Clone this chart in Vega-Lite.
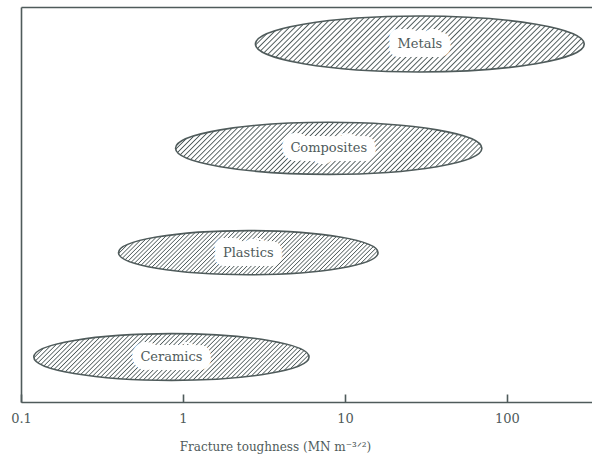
{
  "$schema": "https://vega.github.io/schema/vega-lite/v6.json",
  "autosize": "none",
  "width": 571,
  "height": 395,
  "padding": {"left": 21, "top": 7, "right": 0, "bottom": 59},
  "background": "white",
  "config": {"view": {"stroke": null}, "axis": {"grid": false}},
  "data": {"values": [
    {"material": "Metals", "lo": 2.8, "hi": 300},
    {"material": "Composites", "lo": 0.9, "hi": 70},
    {"material": "Plastics", "lo": 0.4, "hi": 16},
    {"material": "Ceramics", "lo": 0.12, "hi": 6}
  ]},
  "transform": [
    {"calculate": "sqrt(datum.lo * datum.hi)", "as": "center"},
    {"calculate": "log(datum.hi / datum.lo) / LN10", "as": "span"}
  ],
  "resolve": {"axis": {"x": "independent"}},
  "layer": [
    {
      "mark": {
        "type": "point",
        "shape": "M -1 0 A 1 0.17 0 1 1 1 0 A 1 0.17 0 1 1 -1 0 Z",
        "filled": true,
        "opacity": 1,
        "fillOpacity": 1,
        "strokeOpacity": 1,
        "stroke": "#4f5b5b",
        "strokeWidth": 1.6,
        "fill": {
          "gradient": "linear",
          "x1": 0.07, "y1": 0.012, "x2": 1.07, "y2": 0.182,
          "stops": [
{"offset":0,"color":"#4f5b5b"},{"offset":0.004,"color":"#fff"},{"offset":0.012,"color":"#fff"},
{"offset":0.016,"color":"#4f5b5b"},{"offset":0.02,"color":"#fff"},{"offset":0.028,"color":"#fff"},
{"offset":0.032,"color":"#4f5b5b"},{"offset":0.036,"color":"#fff"},{"offset":0.044,"color":"#fff"},
{"offset":0.048,"color":"#4f5b5b"},{"offset":0.052,"color":"#fff"},{"offset":0.06,"color":"#fff"},
{"offset":0.064,"color":"#4f5b5b"},{"offset":0.068,"color":"#fff"},{"offset":0.076,"color":"#fff"},
{"offset":0.08,"color":"#4f5b5b"},{"offset":0.084,"color":"#fff"},{"offset":0.092,"color":"#fff"},
{"offset":0.096,"color":"#4f5b5b"},{"offset":0.1,"color":"#fff"},{"offset":0.108,"color":"#fff"},
{"offset":0.112,"color":"#4f5b5b"},{"offset":0.116,"color":"#fff"},{"offset":0.124,"color":"#fff"},
{"offset":0.128,"color":"#4f5b5b"},{"offset":0.132,"color":"#fff"},{"offset":0.14,"color":"#fff"},
{"offset":0.144,"color":"#4f5b5b"},{"offset":0.148,"color":"#fff"},{"offset":0.156,"color":"#fff"},
{"offset":0.16,"color":"#4f5b5b"},{"offset":0.164,"color":"#fff"},{"offset":0.172,"color":"#fff"},
{"offset":0.176,"color":"#4f5b5b"},{"offset":0.18,"color":"#fff"},{"offset":0.188,"color":"#fff"},
{"offset":0.192,"color":"#4f5b5b"},{"offset":0.196,"color":"#fff"},{"offset":0.204,"color":"#fff"},
{"offset":0.208,"color":"#4f5b5b"},{"offset":0.212,"color":"#fff"},{"offset":0.22,"color":"#fff"},
{"offset":0.224,"color":"#4f5b5b"},{"offset":0.228,"color":"#fff"},{"offset":0.236,"color":"#fff"},
{"offset":0.24,"color":"#4f5b5b"},{"offset":0.244,"color":"#fff"},{"offset":0.252,"color":"#fff"},
{"offset":0.256,"color":"#4f5b5b"},{"offset":0.26,"color":"#fff"},{"offset":0.268,"color":"#fff"},
{"offset":0.272,"color":"#4f5b5b"},{"offset":0.276,"color":"#fff"},{"offset":0.284,"color":"#fff"},
{"offset":0.288,"color":"#4f5b5b"},{"offset":0.292,"color":"#fff"},{"offset":0.3,"color":"#fff"},
{"offset":0.304,"color":"#4f5b5b"},{"offset":0.308,"color":"#fff"},{"offset":0.316,"color":"#fff"},
{"offset":0.32,"color":"#4f5b5b"},{"offset":0.324,"color":"#fff"},{"offset":0.332,"color":"#fff"},
{"offset":0.336,"color":"#4f5b5b"},{"offset":0.34,"color":"#fff"},{"offset":0.348,"color":"#fff"},
{"offset":0.352,"color":"#4f5b5b"},{"offset":0.356,"color":"#fff"},{"offset":0.364,"color":"#fff"},
{"offset":0.368,"color":"#4f5b5b"},{"offset":0.372,"color":"#fff"},{"offset":0.38,"color":"#fff"},
{"offset":0.384,"color":"#4f5b5b"},{"offset":0.388,"color":"#fff"},{"offset":0.396,"color":"#fff"},
{"offset":0.4,"color":"#4f5b5b"},{"offset":0.404,"color":"#fff"},{"offset":0.412,"color":"#fff"},
{"offset":0.416,"color":"#4f5b5b"},{"offset":0.42,"color":"#fff"},{"offset":0.428,"color":"#fff"},
{"offset":0.432,"color":"#4f5b5b"},{"offset":0.436,"color":"#fff"},{"offset":0.444,"color":"#fff"},
{"offset":0.448,"color":"#4f5b5b"},{"offset":0.452,"color":"#fff"},{"offset":0.46,"color":"#fff"},
{"offset":0.464,"color":"#4f5b5b"},{"offset":0.468,"color":"#fff"},{"offset":0.476,"color":"#fff"},
{"offset":0.48,"color":"#4f5b5b"},{"offset":0.484,"color":"#fff"},{"offset":0.492,"color":"#fff"},
{"offset":0.496,"color":"#4f5b5b"},{"offset":0.5,"color":"#fff"},{"offset":0.508,"color":"#fff"},
{"offset":0.512,"color":"#4f5b5b"},{"offset":0.516,"color":"#fff"},{"offset":0.524,"color":"#fff"},
{"offset":0.528,"color":"#4f5b5b"},{"offset":0.532,"color":"#fff"},{"offset":0.54,"color":"#fff"},
{"offset":0.544,"color":"#4f5b5b"},{"offset":0.548,"color":"#fff"},{"offset":0.556,"color":"#fff"},
{"offset":0.56,"color":"#4f5b5b"},{"offset":0.564,"color":"#fff"},{"offset":0.572,"color":"#fff"},
{"offset":0.576,"color":"#4f5b5b"},{"offset":0.58,"color":"#fff"},{"offset":0.588,"color":"#fff"},
{"offset":0.592,"color":"#4f5b5b"},{"offset":0.596,"color":"#fff"},{"offset":0.604,"color":"#fff"},
{"offset":0.608,"color":"#4f5b5b"},{"offset":0.612,"color":"#fff"},{"offset":0.62,"color":"#fff"},
{"offset":0.624,"color":"#4f5b5b"},{"offset":0.628,"color":"#fff"},{"offset":0.636,"color":"#fff"},
{"offset":0.64,"color":"#4f5b5b"},{"offset":0.644,"color":"#fff"},{"offset":0.652,"color":"#fff"},
{"offset":0.656,"color":"#4f5b5b"},{"offset":0.66,"color":"#fff"},{"offset":0.668,"color":"#fff"},
{"offset":0.672,"color":"#4f5b5b"},{"offset":0.676,"color":"#fff"},{"offset":0.684,"color":"#fff"},
{"offset":0.688,"color":"#4f5b5b"},{"offset":0.692,"color":"#fff"},{"offset":0.7,"color":"#fff"},
{"offset":0.704,"color":"#4f5b5b"},{"offset":0.708,"color":"#fff"},{"offset":0.716,"color":"#fff"},
{"offset":0.72,"color":"#4f5b5b"},{"offset":0.724,"color":"#fff"},{"offset":0.732,"color":"#fff"},
{"offset":0.736,"color":"#4f5b5b"},{"offset":0.74,"color":"#fff"},{"offset":0.748,"color":"#fff"},
{"offset":0.752,"color":"#4f5b5b"},{"offset":0.756,"color":"#fff"},{"offset":0.764,"color":"#fff"},
{"offset":0.768,"color":"#4f5b5b"},{"offset":0.772,"color":"#fff"},{"offset":0.78,"color":"#fff"},
{"offset":0.784,"color":"#4f5b5b"},{"offset":0.788,"color":"#fff"},{"offset":0.796,"color":"#fff"},
{"offset":0.8,"color":"#4f5b5b"},{"offset":0.804,"color":"#fff"},{"offset":0.812,"color":"#fff"},
{"offset":0.816,"color":"#4f5b5b"},{"offset":0.82,"color":"#fff"},{"offset":0.828,"color":"#fff"},
{"offset":0.832,"color":"#4f5b5b"},{"offset":0.836,"color":"#fff"},{"offset":0.844,"color":"#fff"},
{"offset":0.848,"color":"#4f5b5b"},{"offset":0.852,"color":"#fff"},{"offset":0.86,"color":"#fff"},
{"offset":0.864,"color":"#4f5b5b"},{"offset":0.868,"color":"#fff"},{"offset":0.876,"color":"#fff"},
{"offset":0.88,"color":"#4f5b5b"},{"offset":0.884,"color":"#fff"},{"offset":0.892,"color":"#fff"},
{"offset":0.896,"color":"#4f5b5b"},{"offset":0.9,"color":"#fff"},{"offset":0.908,"color":"#fff"},
{"offset":0.912,"color":"#4f5b5b"},{"offset":0.916,"color":"#fff"},{"offset":0.924,"color":"#fff"},
{"offset":0.928,"color":"#4f5b5b"},{"offset":0.932,"color":"#fff"},{"offset":0.94,"color":"#fff"},
{"offset":0.944,"color":"#4f5b5b"},{"offset":0.948,"color":"#fff"},{"offset":0.956,"color":"#fff"},
{"offset":0.96,"color":"#4f5b5b"},{"offset":0.964,"color":"#fff"},{"offset":0.972,"color":"#fff"},
{"offset":0.976,"color":"#4f5b5b"},{"offset":0.98,"color":"#fff"},{"offset":0.988,"color":"#fff"},
{"offset":0.992,"color":"#4f5b5b"},{"offset":0.996,"color":"#fff"},{"offset":1,"color":"#fff"}
          ]
        }
      },
      "encoding": {
        "x": {
          "field": "center", "type": "quantitative",
          "scale": {"type": "log", "domain": [0.1, 335], "nice": false},
          "axis": {
            "orient": "bottom",
            "values": [0.1, 1, 10, 100],
            "format": "~g",
            "labelFlush": false,
            "labelFont": "DejaVu Serif", "labelFontSize": 13, "labelColor": "#4f5b5b",
            "labelPadding": 18,
            "ticks": true, "tickSize": -8, "tickColor": "#4f5b5b", "tickWidth": 1.6,
            "domainColor": "#4f5b5b", "domainWidth": 1.6,
            "title": "Fracture toughness (MN m⁻³ᐟ²)",
            "titleFont": "DejaVu Serif", "titleFontSize": 12, "titleFontWeight": "normal",
            "titleColor": "#4f5b5b",
            "titleX": 254, "titleY": 48, "titleBaseline": "alphabetic"
          }
        },
        "y": {
          "field": "material", "type": "nominal",
          "scale": {"type": "point", "domain": ["Metals", "Composites", "Plastics", "Ceramics"], "padding": 0.393, "align": 0.451},
          "axis": {"labels": false, "ticks": false, "title": null, "domainColor": "#4f5b5b", "domainWidth": 1.6}
        },
        "size": {
          "field": "span", "type": "quantitative",
          "scale": {"type": "pow", "exponent": 2, "domain": [0, 3], "range": [0, 236196]},
          "legend": null
        }
      }
    },
    {
      "mark": {"type": "text", "font": "DejaVu Serif", "fontSize": 13, "baseline": "middle", "align": "center", "stroke": "white", "strokeWidth": 18, "strokeJoin": "round", "fill": "white"},
      "encoding": {
        "x": {
          "field": "center", "type": "quantitative",
          "scale": {"type": "log", "domain": [0.1, 335], "nice": false},
          "axis": {"orient": "top", "labels": false, "ticks": false, "title": null, "domainColor": "#4f5b5b", "domainWidth": 1.6}
        },
        "y": {
          "field": "material", "type": "nominal",
          "scale": {"type": "point", "domain": ["Metals", "Composites", "Plastics", "Ceramics"], "padding": 0.393, "align": 0.451},
          "axis": {"labels": false, "ticks": false, "title": null, "domainColor": "#4f5b5b", "domainWidth": 1.6}
        },
        "text": {"field": "material"}
      }
    },
    {
      "mark": {"type": "text", "font": "DejaVu Serif", "fontSize": 13, "baseline": "middle", "align": "center", "color": "#4f5b5b"},
      "encoding": {
        "x": {"field": "center", "type": "quantitative", "scale": {"type": "log", "domain": [0.1, 335], "nice": false}, "axis": null},
        "y": {
          "field": "material", "type": "nominal",
          "scale": {"type": "point", "domain": ["Metals", "Composites", "Plastics", "Ceramics"], "padding": 0.393, "align": 0.451},
          "axis": {"labels": false, "ticks": false, "title": null, "domainColor": "#4f5b5b", "domainWidth": 1.6}
        },
        "text": {"field": "material"}
      }
    }
  ]
}
